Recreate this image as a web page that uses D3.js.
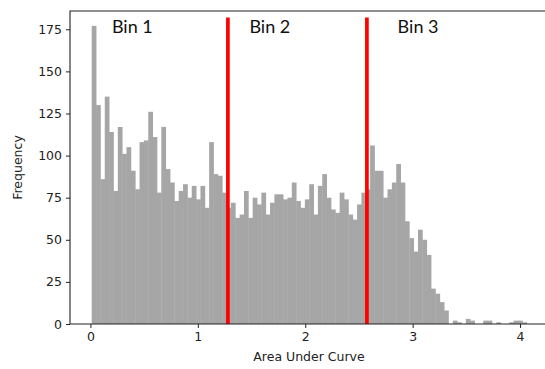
<!DOCTYPE html>
<html>
<head>
<meta charset="utf-8">
<script src="https://cdn.jsdelivr.net/npm/d3@7"></script>
<style>
  body { margin: 0; background: #fff; }
  svg text { font-family: "DejaVu Sans", sans-serif; fill: #222; }
</style>
</head>
<body>
<div id="chart"></div>
<script>
// histogram counts, 100 equal bins
var counts = [
  177, 130, 86, 135, 114, 79, 117, 101, 105, 91,
  80, 108, 109, 126, 111, 78, 117, 92, 84, 73,
  79, 83, 75, 82, 74, 82, 69, 108, 89, 88,
  78, 69, 72, 63, 65, 79, 63, 75, 71, 78,
  65, 72, 77, 77, 74, 75, 84, 73, 69, 74,
  83, 65, 82, 89, 75, 68, 66, 78, 74, 65,
  62, 71, 78, 80, 106, 91, 91, 75, 80, 84,
  95, 84, 61, 51, 43, 56, 50, 41, 21, 18,
  13, 8, 0, 2, 1, 0, 3, 2, 0, 0,
  2, 2, 0, 1, 0, 0, 1, 2, 2, 1
];
var binStart = 0.012;
var binWidth = 0.0405;

// where the red dividers go
var cutPoints = [1.28, 2.574];
var cutTop = 182;

var binLabels = ['Bin 1', 'Bin 2', 'Bin 3'];
var binLabelX = [0.2, 1.48, 2.86];
var binLabelY = 173;

var xTicks = [0, 1, 2, 3, 4];
var yTicks = [0, 25, 50, 75, 100, 125, 150, 175];

// ------------------------------------------------
var svgWidth = 545;
var svgHeight = 369;

var svg = d3.select('#chart')
    .append('svg')
    .attr('width', svgWidth)
    .attr('height', svgHeight);

// plot box (note: "top" is taken by window.top, so use plot* names)
var plotLeft = 70, plotRight = 548, plotTop = 11, plotBottom = 324;

var xScale = d3.scaleLinear()
    .domain([-0.19, 4.26])
    .range([plotLeft, plotRight]);

var yScale = d3.scaleLinear()
    .domain([0, 185.85])
    .range([plotBottom, plotTop]);

// bars
svg.append('g')
    .selectAll('rect')
    .data(counts)
    .enter()
    .append('rect')
    .attr('x', (d, i) => xScale(binStart + i * binWidth))
    .attr('width', xScale(binWidth) - xScale(0) + 0.4)
    .attr('y', d => yScale(d))
    .attr('height', d => yScale(0) - yScale(d))
    .attr('fill', '#a6a6a6');

// red cut lines
svg.append('g')
    .selectAll('line')
    .data(cutPoints)
    .enter()
    .append('line')
    .attr('x1', d => xScale(d))
    .attr('x2', d => xScale(d))
    .attr('y1', yScale(0))
    .attr('y2', yScale(cutTop))
    .attr('stroke', '#ff0000')
    .attr('stroke-width', 3.7);

// bin labels
svg.append('g')
    .selectAll('text')
    .data(binLabels)
    .enter()
    .append('text')
    .attr('x', (d, i) => xScale(binLabelX[i]))
    .attr('y', yScale(binLabelY))
    .style('font-family', 'Lato, "Open Sans", sans-serif')
    .style('font-size', '18px')
    .style('fill', '#111')
    .text(d => d);

// axes
var xAxis = svg.append('g')
    .attr('transform', `translate(0, ${plotBottom})`)
    .call(d3.axisBottom(xScale).tickValues(xTicks).tickFormat(d3.format('d'))
        .tickSize(4).tickPadding(4));

var yAxis = svg.append('g')
    .attr('transform', `translate(${plotLeft}, 0)`)
    .call(d3.axisLeft(yScale).tickValues(yTicks).tickFormat(d3.format('d'))
        .tickSize(4).tickPadding(4));

[xAxis, yAxis].forEach(ax => {
    ax.select('.domain').remove();
    ax.selectAll('text')
        .style('font-size', '12.5px')
        .style('font-family', '"DejaVu Sans", sans-serif')
        .attr('fill', '#222');
    ax.selectAll('line').attr('stroke', '#222');
});

// spines
svg.append('path')
    .attr('d', `M${plotRight},${plotTop}H${plotLeft}V${plotBottom}H${plotRight}`)
    .attr('fill', 'none')
    .attr('stroke', '#222')
    .attr('stroke-width', 1.1);

// axis titles
svg.append('text')
    .attr('x', (plotLeft + plotRight) / 2)
    .attr('y', 361)
    .attr('text-anchor', 'middle')
    .style('font-size', '12.5px')
    .text('Area Under Curve');

svg.append('text')
    .attr('transform', `translate(22, ${(plotTop + plotBottom) / 2}) rotate(-90)`)
    .attr('text-anchor', 'middle')
    .style('font-size', '12.5px')
    .text('Frequency');
</script>
</body>
</html>
